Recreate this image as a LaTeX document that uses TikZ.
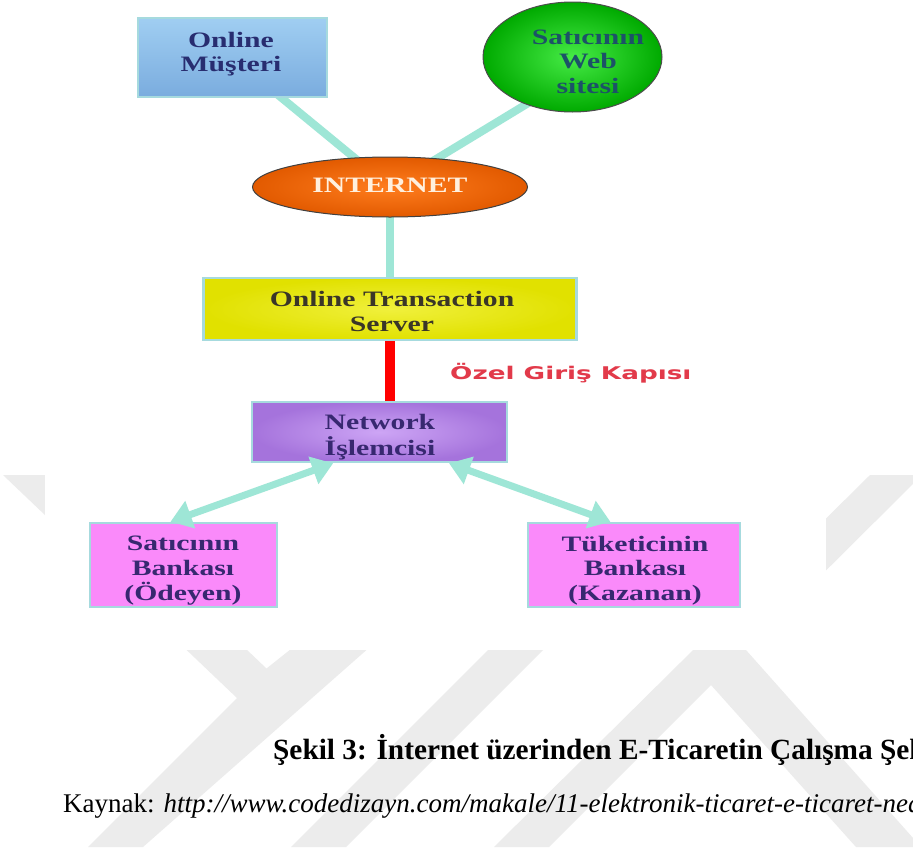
\documentclass[tikz,border=0pt]{standalone}
\usepackage{fontspec}
\setmainfont{Liberation Serif}
\newfontfamily\tagfont{DejaVu Sans}
\usetikzlibrary{shapes.geometric,arrows.meta,calc}

\definecolor{markc}{RGB}{236,236,236}
\definecolor{linkc}{RGB}{158,230,214}
\definecolor{edgec}{RGB}{166,218,222}
\definecolor{blueA}{RGB}{160,206,242}
\definecolor{blueB}{RGB}{122,172,222}
\definecolor{greenA}{RGB}{70,235,70}
\definecolor{greenB}{RGB}{0,170,0}
\definecolor{orangeA}{RGB}{255,125,30}
\definecolor{orangeB}{RGB}{226,90,0}
\definecolor{yellowA}{RGB}{240,240,60}
\definecolor{yellowB}{RGB}{225,225,0}
\definecolor{purpleA}{RGB}{205,165,245}
\definecolor{purpleB}{RGB}{165,115,220}
\definecolor{pinkc}{RGB}{250,138,250}
\definecolor{navyt}{RGB}{40,45,112}
\definecolor{tealt}{RGB}{28,82,104}
\definecolor{olivet}{RGB}{58,54,40}
\definecolor{violett}{RGB}{55,40,112}
\definecolor{creamt}{RGB}{255,240,222}
\definecolor{gatec}{RGB}{226,58,74}

\pgfdeclarelayer{paper}
\pgfdeclarelayer{wires}
\pgfsetlayers{paper,wires,main}

% stretched multi-line label
\newcommand\widetext[1]{\scalebox{1.35}[1]{\begin{tabular}{@{}c@{}}#1\end{tabular}}}

\begin{document}
\begin{tikzpicture}[x=1pt,y=-1pt,
  card/.style={rectangle, draw=edgec, line width=2.5pt, inner sep=0pt},
  oval/.style={ellipse, draw=black!70, line width=1pt, inner sep=0pt},
  txt/.style={inner sep=0pt, font=\fontsize{22}{24.5}\selectfont\bfseries},
  link/.style={draw=linkc, line width=8pt},
  dlink/.style={draw=linkc, line width=7pt,
    {Triangle[width=28pt,length=21pt]}-{Triangle[width=28pt,length=21pt]}},
  gate/.style={draw=red, line width=10pt}
]
\useasboundingbox (0,0) rectangle (913,854);

\begin{pgfonlayer}{paper}
  \fill[white] (0,0) rectangle (913,854);
  % faint background emblem: three slanted bars with two side legs
  \begin{scope}
    \clip (0,475) rectangle (913,847);
    \fill[markc] (3,475) -- (63,475) -- (266.5,668.5) -- (510,475) -- (565,475)
      -- (143,847) -- (88,847) -- (237,698) -- cycle;
    \fill[markc] (663,475) -- (718,475) -- (346,847) -- (291,847) -- cycle;
    \fill[markc] (870,475) -- (922,475) -- (746,650) -- (921,847) -- (856,847)
      -- (711,685) -- (549,847) -- (494,847) -- cycle;
  \end{scope}
  \fill[white] (45,0) rectangle (826,650);
\end{pgfonlayer}

% shapes
\node[card, top color=blueA, bottom color=blueB,
  minimum width=189pt, minimum height=79pt] (must) at (232.5,57.5) {};
\node[oval, shading=radial, inner color=greenA, outer color=greenB,
  minimum width=179pt, minimum height=110pt] (web) at (572.5,57) {};
\node[oval, shading=radial, inner color=orangeA, outer color=orangeB, draw=black!75,
  minimum width=275pt, minimum height=60pt] (inet) at (390,187) {};
\node[card, shading=radial, inner color=yellowA, outer color=yellowB,
  minimum width=373pt, minimum height=62pt] (ots) at (390,309) {};
\node[card, shading=radial, inner color=purpleA, outer color=purpleB,
  minimum width=255pt, minimum height=60pt] (net) at (379.5,432) {};
\node[card, fill=pinkc,
  minimum width=187pt, minimum height=84pt] (bank1) at (183.5,565) {};
\node[card, fill=pinkc,
  minimum width=212pt, minimum height=84pt] (bank2) at (634,565) {};

% labels
\node[txt, text=navyt] (mustlbl) at (231,54.5) {\widetext{Online\\Müşteri}};
\node[txt, text=tealt] (weblbl) at (588,64) {\widetext{Satıcının\\Web\\sitesi}};
\node[txt, text=creamt] (inetlbl) at (390,188) {\widetext{INTERNET}};
\node[txt, text=olivet] (otslbl) at (392,314) {\widetext{Online Transaction\\Server}};
\node[txt, text=violett] (netlbl) at (380,437.5) {\widetext{Network\\İşlemcisi}};
\node[txt, text=violett] (bank1lbl) at (183,571) {\widetext{Satıcının\\Bankası\\(Ödeyen)}};
\node[txt, text=violett] (bank2lbl) at (635,571) {\widetext{Tüketicinin\\Bankası\\(Kazanan)}};

\node[anchor=west, text=gatec, inner sep=0pt,
  font=\tagfont\fontsize{17.5}{20}\selectfont\bfseries]
  (gatelbl) at (450,373) {\scalebox{1.5}[1]{Özel Giriş Kapısı}};

% connectors
\begin{pgfonlayer}{wires}
  \draw[link] (must.center) -- (inet.center);
  \draw[link] ($(web.south)+(-40,-12)$) -- (inet.center);
  \draw[link] (inet.center) -- (ots.center);
  \draw[gate] (ots.south) -- (ots.south |- net.north);
\end{pgfonlayer}
\draw[dlink] ($(net.south west)!0.32!(net.south east)$) -- ($(bank1.north)+(-13,0)$);
\draw[dlink] ($(net.south west)!0.77!(net.south east)$) -- ($(bank2.north west)!0.39!(bank2.north east)$);

% caption and source
\node[anchor=base west, font=\fontsize{29.3}{33}\selectfont\bfseries, inner sep=0pt]
  (caption) at (273,759) {Şekil 3: İnternet üzerinden E-Ticaretin Çalışma Şek};
\node[anchor=base west, font=\fontsize{27}{31}\selectfont, inner sep=0pt]
  (source) at (63,812) {Kaynak: \textit{http://www.codedizayn.com/makale/11-elektronik-ticaret-e-ticaret-ned}};
\end{tikzpicture}
\end{document}
